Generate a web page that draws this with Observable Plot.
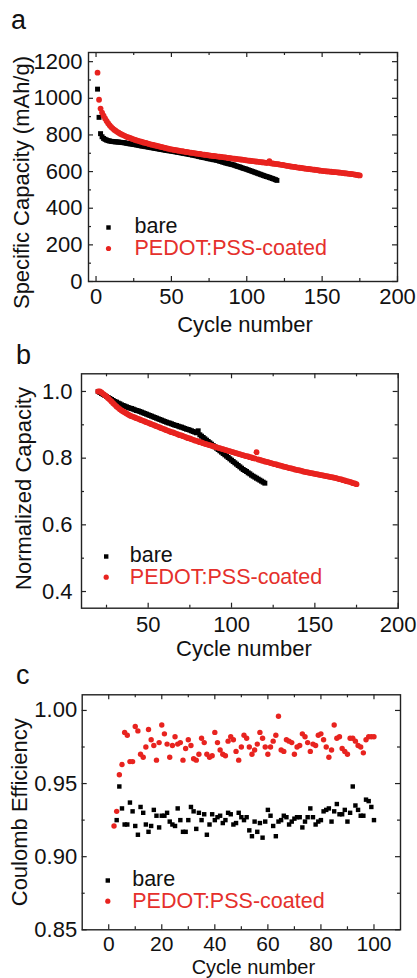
<!DOCTYPE html>
<html>
<head>
<meta charset="utf-8">
<script src="https://cdn.jsdelivr.net/npm/d3@7"></script>
<script src="https://cdn.jsdelivr.net/npm/@observablehq/plot@0.6"></script>
<style>
  html, body { margin: 0; padding: 0; background: #fff; }
  #root { position: relative; width: 417px; height: 978px; overflow: hidden; font-family: 'Liberation Sans', Arial, sans-serif; }
  .letter { position: absolute; font-size: 27px; line-height: 1; color: #111; }
  .panel { position: absolute; left: 0; }
</style>
</head>
<body>
<div id="root">
  <div class="panel" id="pa" style="top:0px;"></div>
  <div class="panel" id="pb" style="top:335px;"></div>
  <div class="panel" id="pc" style="top:660px;"></div>
  <div class="letter" id="la" style="left:11px; top:7px;">a</div>
  <div class="letter" id="lb" style="left:16px; top:342px;">b</div>
  <div class="letter" id="lc" style="left:16px; top:662px;">c</div>
</div>
<script>
// ---------- Data ----------
const seriesNames = ["bare", "PEDOT:PSS-coated"];

// Panel a: specific capacity (mAh/g), bare cycles 1..120, coated cycles 1..175
const capBareStart = 1;
const capBare = [
  1050, 896, 807, 790, 781, 776, 772, 769, 767, 765,
  764, 763, 762, 762, 761, 760, 759, 758, 757, 755,
  754, 752, 751, 750, 748, 747, 745, 744, 742, 740,
  739, 738, 736, 735, 733, 732, 730, 729, 727, 726,
  724, 723, 721, 720, 718, 717, 715, 714, 713, 712,
  710, 709, 707, 706, 704, 703, 701, 700, 698, 697,
  695, 694, 692, 690, 689, 687, 685, 683, 681, 679,
  677, 676, 674, 672, 670, 669, 667, 665, 664, 662,
  660, 657, 655, 652, 650, 647, 645, 643, 641, 639,
  637, 634, 631, 628, 626, 623, 620, 617, 615, 612,
  609, 606, 603, 600, 597, 594, 591, 588, 585, 582,
  579, 576, 573, 571, 568, 565, 562, 559, 556, 552
];
const capCoatedStart = 1;
const capCoated = [
  1140, 992, 944, 922, 905, 890, 876, 864, 853, 844,
  836, 829, 823, 817, 812, 807, 803, 799, 795, 791,
  788, 785, 782, 779, 776, 773, 770, 768, 765, 763,
  760, 758, 756, 754, 751, 749, 747, 745, 743, 741,
  739, 737, 735, 733, 731, 729, 727, 725, 723, 721,
  720, 718, 717, 715, 714, 712, 711, 710, 708, 707,
  706, 704, 703, 702, 701, 699, 698, 697, 696, 694,
  693, 692, 691, 690, 688, 687, 686, 685, 684, 683,
  682, 681, 680, 679, 678, 677, 675, 674, 673, 672,
  671, 670, 669, 668, 667, 666, 665, 664, 663, 661,
  660, 659, 658, 657, 656, 655, 654, 653, 652, 651,
  650, 649, 648, 647, 657, 645, 644, 643, 642, 641,
  640, 638, 637, 636, 634, 633, 631, 630, 628, 627,
  626, 625, 623, 622, 621, 620, 619, 617, 616, 615,
  614, 613, 612, 611, 610, 609, 608, 606, 605, 604,
  603, 602, 601, 601, 600, 599, 598, 597, 597, 596,
  595, 594, 593, 592, 591, 590, 589, 588, 587, 586,
  585, 583, 582, 580, 579
];

// Panel b: normalized capacity, bare cycles 20..120, coated cycles 20..175
const normBareStart = 20;
const normBare = [
  1.000, 0.997, 0.994, 0.991, 0.988, 0.985, 0.982, 0.979, 0.976, 0.973,
  0.970, 0.968, 0.965, 0.963, 0.960, 0.958, 0.956, 0.954, 0.952, 0.950,
  0.949, 0.947, 0.945, 0.943, 0.942, 0.940, 0.938, 0.936, 0.934, 0.932,
  0.930, 0.928, 0.926, 0.924, 0.922, 0.920, 0.918, 0.916, 0.914, 0.912,
  0.910, 0.908, 0.906, 0.905, 0.903, 0.901, 0.899, 0.898, 0.896, 0.894,
  0.893, 0.891, 0.889, 0.887, 0.886, 0.884, 0.882, 0.880, 0.878, 0.876,
  0.882, 0.870, 0.866, 0.862, 0.858, 0.854, 0.850, 0.846, 0.842, 0.838,
  0.834, 0.830, 0.826, 0.822, 0.818, 0.814, 0.810, 0.806, 0.802, 0.798,
  0.794, 0.790, 0.786, 0.782, 0.778, 0.774, 0.770, 0.766, 0.763, 0.760,
  0.756, 0.753, 0.749, 0.746, 0.743, 0.740, 0.737, 0.734, 0.731, 0.728,
  0.725
];
const normCoatedStart = 20;
const normCoated = [
  1.000, 1.000, 0.997, 0.993, 0.989, 0.985, 0.980, 0.975, 0.970, 0.965,
  0.960, 0.955, 0.951, 0.947, 0.943, 0.940, 0.937, 0.934, 0.931, 0.928,
  0.926, 0.924, 0.922, 0.920, 0.918, 0.916, 0.914, 0.912, 0.910, 0.908,
  0.906, 0.904, 0.902, 0.900, 0.898, 0.896, 0.894, 0.892, 0.890, 0.888,
  0.886, 0.884, 0.882, 0.880, 0.878, 0.877, 0.875, 0.873, 0.871, 0.869,
  0.868, 0.866, 0.864, 0.862, 0.860, 0.859, 0.857, 0.855, 0.853, 0.852,
  0.850, 0.848, 0.847, 0.845, 0.843, 0.842, 0.840, 0.839, 0.837, 0.836,
  0.834, 0.833, 0.831, 0.830, 0.828, 0.827, 0.825, 0.824, 0.822, 0.821,
  0.819, 0.818, 0.816, 0.815, 0.813, 0.812, 0.810, 0.809, 0.807, 0.806,
  0.805, 0.803, 0.802, 0.800, 0.799, 0.818, 0.796, 0.795, 0.793, 0.792,
  0.790, 0.789, 0.788, 0.786, 0.785, 0.783, 0.782, 0.781, 0.779, 0.778,
  0.777, 0.775, 0.774, 0.773, 0.771, 0.770, 0.769, 0.768, 0.766, 0.765,
  0.764, 0.763, 0.762, 0.760, 0.759, 0.758, 0.757, 0.756, 0.755, 0.754,
  0.753, 0.752, 0.751, 0.750, 0.749, 0.748, 0.747, 0.746, 0.745, 0.744,
  0.743, 0.742, 0.741, 0.740, 0.738, 0.737, 0.736, 0.734, 0.733, 0.731,
  0.730, 0.729, 0.727, 0.725, 0.724, 0.722
];

// Panel c: coulombic efficiency, bare cycles 3..100, coated cycles 2..100
const ceBareStart = 3;
const ceBare = [
  0.925, 0.948, 0.933, 0.922, 0.922, 0.937, 0.931, 0.921, 0.915, 0.934,
  0.930, 0.922, 0.917, 0.921, 0.932, 0.928, 0.920, 0.928, 0.928, 0.930,
  0.924, 0.922, 0.921, 0.933, 0.925, 0.917, 0.917, 0.925, 0.934, 0.931,
  0.919, 0.930, 0.925, 0.929, 0.915, 0.922, 0.929, 0.925, 0.927, 0.928,
  0.923, 0.925, 0.930, 0.929, 0.922, 0.923, 0.930, 0.927, 0.925, 0.927,
  0.918, 0.914, 0.924, 0.917, 0.923, 0.913, 0.924, 0.932, 0.928, 0.921,
  0.914, 0.924, 0.925, 0.928, 0.927, 0.922, 0.924, 0.926, 0.927, 0.927,
  0.920, 0.924, 0.927, 0.933, 0.927, 0.922, 0.924, 0.925, 0.931, 0.932,
  0.933, 0.924, 0.931, 0.936, 0.929, 0.929, 0.932, 0.924, 0.930, 0.948,
  0.935, 0.932, 0.928, 0.928, 0.939, 0.938, 0.934, 0.925
];
const ceCoatedStart = 2;
const ceCoated = [
  0.921, 0.931, 0.956, 0.963, 0.985, 0.983, 0.965, 0.965, 0.989, 0.986,
  0.970, 0.968, 0.975, 0.987, 0.980, 0.976, 0.966, 0.978, 0.990, 0.984,
  0.977, 0.968, 0.976, 0.982, 0.977, 0.978, 0.966, 0.974, 0.980, 0.976,
  0.967, 0.966, 0.970, 0.981, 0.978, 0.970, 0.968, 0.969, 0.985, 0.978,
  0.973, 0.970, 0.969, 0.979, 0.982, 0.980, 0.972, 0.966, 0.975, 0.983,
  0.981, 0.975, 0.970, 0.973, 0.977, 0.985, 0.981, 0.975, 0.970, 0.975,
  0.979, 0.983, 0.996, 0.973, 0.972, 0.980, 0.979, 0.978, 0.970, 0.975,
  0.976, 0.984, 0.982, 0.978, 0.972, 0.977, 0.976, 0.983, 0.984, 0.980,
  0.975, 0.968, 0.973, 0.990, 0.981, 0.982, 0.974, 0.972, 0.970, 0.981,
  0.981, 0.979, 0.976, 0.975, 0.971, 0.980, 0.982, 0.982, 0.982
];

// Tick values
const aXMajor = [0, 50, 100, 150, 200], aXMinor = [25, 75, 125, 175];
const aYMajor = [0, 200, 400, 600, 800, 1000, 1200], aYMinor = [100, 300, 500, 700, 900, 1100];
const bXMajor = [50, 100, 150, 200], bXMinor = [25, 75, 125, 175];
const bYMajor = [0.4, 0.6, 0.8, 1.0], bYMinor = [0.5, 0.7, 0.9];
const cXMajor = [0, 20, 40, 60, 80, 100], cXMinor = [10, 30, 50, 70, 90];
const cYMajor = [0.85, 0.90, 0.95, 1.00], cYMinor = [0.875, 0.925, 0.975];

// ---------- Drawing ----------
const FONT = "'Liberation Sans', Arial, sans-serif";
const RED = "#e8231f";
const RED_TEXT = "#e5302c";
const FS = 22;

function toRows(values, start) {
  return values.map((v, i) => ({cycle: start + i, value: v}));
}

function panel(o) {
  const W = 417;
  const fw = W - o.ml - o.mr, fh = o.h - o.mt - o.mb;
  const MAJ = 5, MIN = 3;
  const ticks = [];
  for (const [vals, len] of [[o.xMajor, MAJ], [o.xMinor, MIN]]) {
    ticks.push(Plot.tickX(vals, {x: d => d, insetTop: fh - len, stroke: "#222", strokeWidth: 1.2}));
    ticks.push(Plot.tickX(vals, {x: d => d, insetBottom: fh - len, stroke: "#222", strokeWidth: 1.2}));
  }
  for (const [vals, len] of [[o.yMajor, MAJ], [o.yMinor, MIN]]) {
    ticks.push(Plot.tickY(vals, {y: d => d, insetRight: fw - len, stroke: "#222", strokeWidth: 1.2}));
    ticks.push(Plot.tickY(vals, {y: d => d, insetLeft: fw - len, stroke: "#222", strokeWidth: 1.2}));
  }
  return Plot.plot({
    width: W, height: o.h,
    marginLeft: o.ml, marginRight: o.mr, marginTop: o.mt, marginBottom: o.mb,
    x: {type: "linear", domain: o.xDomain},
    y: {type: "linear", domain: o.yDomain},
    style: {fontFamily: FONT, fontSize: FS + "px", color: "#111", background: "transparent", overflow: "visible"},
    marks: [
      ...ticks,
      Plot.frame({stroke: "#222", strokeWidth: 1.4}),
      Plot.axisX(o.xMajor, {anchor: "bottom", tickSize: 0, tickPadding: o.xPad, tickFormat: o.xFmt, label: null, fontSize: o.xfs || FS, fill: "#111"}),
      Plot.axisY(o.yMajor, {anchor: "left", tickSize: 0, tickPadding: o.yPad, tickFormat: o.yFmt, label: null, fontSize: FS, fill: "#111"}),
      Plot.dot(o.bare, {x: "cycle", y: "value", symbol: "square", r: o.rs, fill: "#000", stroke: "none"}),
      Plot.dot(o.coated, {x: "cycle", y: "value", symbol: "circle", r: o.rc, fill: RED, stroke: "none"}),
      Plot.text([o.xTitle], {frameAnchor: "bottom", textAnchor: "middle", lineAnchor: "middle", dx: o.xtDx, dy: o.xtDy, fontSize: o.xtfs || FS, fill: "#111"}),
      Plot.text([o.yTitle], {frameAnchor: "left", textAnchor: "middle", lineAnchor: "middle", rotate: -90, dx: o.ytDx, dy: o.ytDy, fontSize: FS, fill: "#111"}),
      // legend
      Plot.dot([seriesNames[0]], {frameAnchor: "top-left", dx: o.lgDx, dy: o.lgDy, symbol: "square", r: o.rsl, fill: "#000", stroke: "none"}),
      Plot.dot([seriesNames[1]], {frameAnchor: "top-left", dx: o.lgDx, dy: o.lgDy + o.lgGap, symbol: "circle", r: o.rcl, fill: RED, stroke: "none"}),
      Plot.text([seriesNames[0]], {frameAnchor: "top-left", textAnchor: "start", lineAnchor: "middle", dx: o.lgTx, dy: o.lgDy - 1, fontSize: 21.5, fill: "#111"}),
      Plot.text([seriesNames[1]], {frameAnchor: "top-left", textAnchor: "start", lineAnchor: "middle", dx: o.lgTx, dy: o.lgDy + o.lgGap, fontSize: 21.5, fill: RED_TEXT})
    ]
  });
}

document.getElementById("pa").append(panel({
  h: 335, ml: 88, mr: 20, mt: 52, mb: 54,
  xDomain: [-5, 200], yDomain: [0, 1250],
  xMajor: aXMajor, xMinor: aXMinor, yMajor: aYMajor, yMinor: aYMinor,
  xFmt: d => String(d), yFmt: d => String(d), xPad: 7, yPad: 6,
  bare: toRows(capBare, capBareStart), coated: toRows(capCoated, capCoatedStart),
  rs: 2.8, rc: 2.9, rsl: 2.5, rcl: 2.6,
  xTitle: "Cycle number", xtDx: 2, xtDy: 43,
  yTitle: "Specific Capacity (mAh/g)", ytDx: -67, ytDy: 15.5,
  lgDx: 20, lgDy: 175, lgGap: 21, lgTx: 46
}));

document.getElementById("pb").append(panel({
  h: 325, ml: 81, mr: 19.3, mt: 38.3, mb: 52.3,
  xDomain: [10, 200], yDomain: [0.35, 1.053],
  xMajor: bXMajor, xMinor: bXMinor, yMajor: bYMajor, yMinor: bYMinor,
  xFmt: d => String(d), yFmt: d3.format(".1f"), xPad: 8, yPad: 9,
  bare: toRows(normBare, normBareStart), coated: toRows(normCoated, normCoatedStart),
  rs: 2.8, rc: 2.9, rsl: 2.5, rcl: 2.6,
  xTitle: "Cycle number", xtDx: 4, xtDy: 41,
  yTitle: "Normalized Capacity", ytDx: -58, ytDy: -2.5,
  lgDx: 24.7, lgDy: 182.7, lgGap: 20.7, lgTx: 48.3
}));

document.getElementById("pc").append(panel({
  h: 318, ml: 81.7, mr: 17, mt: 34.3, mb: 48.7,
  xDomain: [-10, 110], yDomain: [0.85, 1.0107],
  xMajor: cXMajor, xMinor: cXMinor, yMajor: cYMajor, yMinor: cYMinor,
  xFmt: d => String(d), yFmt: d3.format(".2f"), xPad: 6, yPad: 5, xfs: 21, xtfs: 20,
  bare: toRows(ceBare, ceBareStart), coated: toRows(ceCoated, ceCoatedStart),
  rs: 2.5, rc: 2.7, rsl: 2.5, rcl: 2.6,
  xTitle: "Cycle number", xtDx: 12, xtDy: 37.4,
  yTitle: "Coulomb Efficiency", ytDx: -62.7, ytDy: 0,
  lgDx: 25.6, lgDy: 185.7, lgGap: 20.7, lgTx: 50
}));
</script>
</body>
</html>
